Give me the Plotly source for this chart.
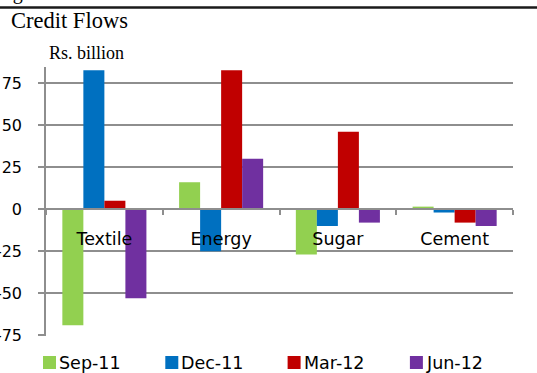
import plotly.graph_objects as go

# Credit flows by sector, Rs. billion
sectors = ["Textile", "Energy", "Sugar", "Cement"]
quarters = ["Sep-11", "Dec-11", "Mar-12", "Jun-12"]
sep_11 = [-69, 16, -27, 1.5]
dec_11 = [82.5, -25, -10, -2]
mar_12 = [5, 82.5, 46, -8]
jun_12 = [-53, 30, -8, -10]
series = [sep_11, dec_11, mar_12, jun_12]
colors = ["#92D050", "#0070C0", "#C00000", "#7030A0"]

y_ticks = [-75, -50, -25, 0, 25, 50, 75]
y_range = [-75.4, 84.5]

W, H = 537, 373
M_L, M_R, M_T, M_B = 46, 24, 67, 37
PW, PH = W - M_L - M_R, H - M_T - M_B
GRID = "#8e8e8e"
SANS = "DejaVu Sans"
SERIF = "Liberation Serif"


def px_x(x):
    """Paper x fraction for a pixel column of the page."""
    return (x - M_L) / PW


def px_y(y):
    """Paper y fraction for a pixel row of the page."""
    return (H - M_B - y) / PH


fig = go.Figure()
for name, vals, col in zip(quarters, series, colors):
    fig.add_trace(go.Bar(
        x=sectors, y=vals, name=name, showlegend=False,
        marker=dict(color=col, line=dict(width=0)),
    ))

# category axis sits on the zero line
zero_pos = (0 - y_range[0]) / (y_range[1] - y_range[0])

fig.update_layout(
    width=W, height=H,
    margin=dict(l=M_L, r=M_R, t=M_T, b=M_B, autoexpand=False),
    paper_bgcolor="white", plot_bgcolor="white",
    barmode="group", bargap=0.28, bargroupgap=0,
    font=dict(family=SANS, size=16, color="#000000"),
    showlegend=False,
    xaxis=dict(
        type="category", anchor="free", position=zero_pos,
        showline=True, linecolor=GRID, linewidth=1.5,
        ticks="outside", tickson="boundaries", ticklen=5, tickcolor=GRID, tickwidth=1.5,
        showgrid=False, zeroline=False,
        tickfont=dict(family=SANS, size=17.5, color="#000000"),
        ticklabelstandoff=14,
    ),
    yaxis=dict(
        range=y_range, tickvals=y_ticks, ticktext=[str(v) for v in y_ticks],
        showgrid=True, gridcolor=GRID, gridwidth=1.5,
        showline=True, linecolor=GRID, linewidth=1.5,
        ticks="outside", ticklen=6, tickcolor=GRID, tickwidth=1.5,
        zeroline=False, ticklabelstandoff=13,
        tickfont=dict(family=SANS, size=16, color="#000000"),
    ),
)

# legend row below the plot: square swatch followed by the quarter label
LEG_X0, LEG_STEP, LEG_Y, SW = 43, 122.3, 362.5, 13
for i, (name, col) in enumerate(zip(quarters, colors)):
    x0 = LEG_X0 + i * LEG_STEP
    fig.add_shape(type="rect", xref="paper", yref="paper",
                  x0=px_x(x0), x1=px_x(x0 + SW),
                  y0=px_y(LEG_Y - SW / 2), y1=px_y(LEG_Y + SW / 2),
                  fillcolor=col, line=dict(width=0))
    fig.add_annotation(text=name, xref="paper", yref="paper",
                       x=px_x(x0 + SW + 1), xanchor="left",
                       y=px_y(LEG_Y), yanchor="middle", showarrow=False,
                       font=dict(family=SANS, size=17.5, color="#000000"))

# header rule across the top of the page
fig.add_shape(type="line", xref="paper", yref="paper",
              x0=px_x(0), x1=px_x(W), y0=px_y(7.5), y1=px_y(7.5),
              line=dict(color="#1a1a1a", width=2.5))

fig.add_annotation(text="Figure", xref="paper", yref="paper",
                   x=px_x(-6), xanchor="left", y=px_y(-8), yanchor="middle",
                   showarrow=False, font=dict(family=SERIF, size=20, color="#000000"))

fig.add_annotation(text="Credit Flows", xref="paper", yref="paper",
                   x=px_x(9), xanchor="left", y=px_y(21), yanchor="middle",
                   showarrow=False, font=dict(family=SERIF, size=22.5, color="#000000"))

fig.add_annotation(text="Rs. billion", xref="paper", yref="paper",
                   x=px_x(47), xanchor="left", y=px_y(53), yanchor="middle",
                   showarrow=False, font=dict(family=SERIF, size=18, color="#000000"))

fig.write_html("out.html")
